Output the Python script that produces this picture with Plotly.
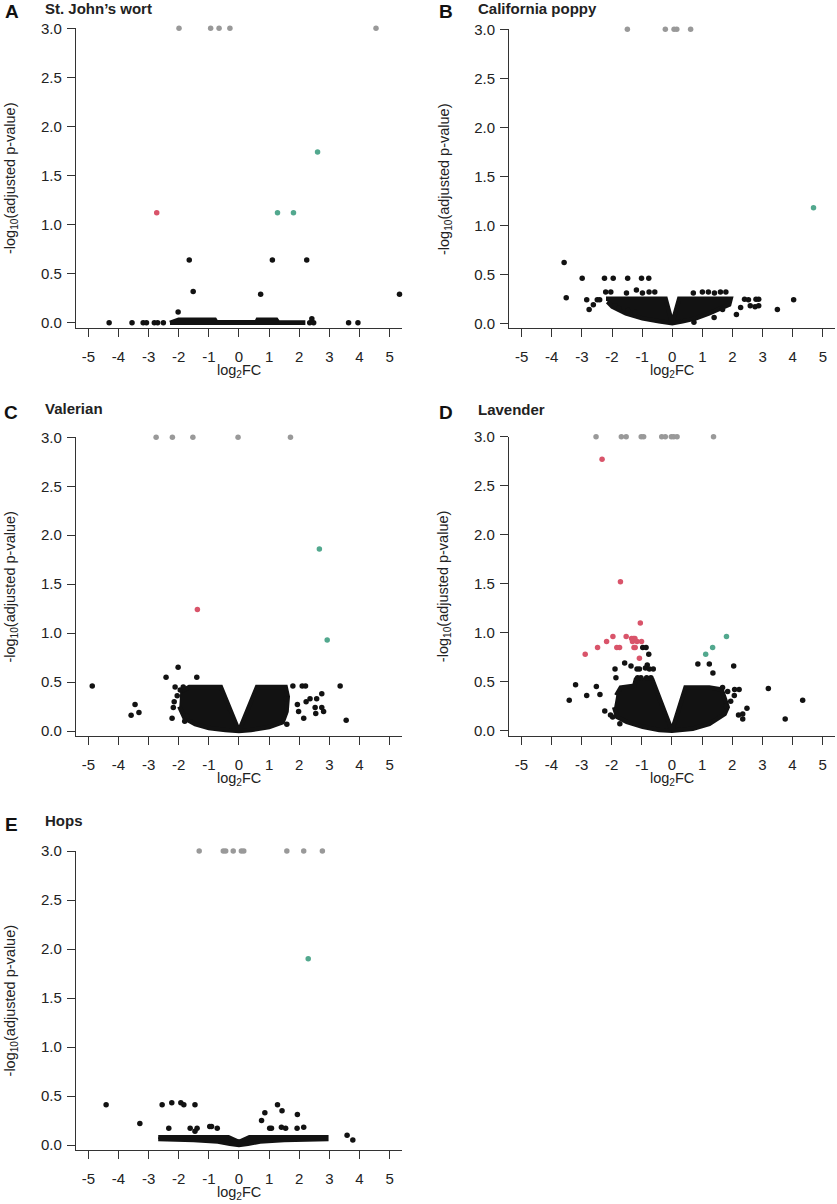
"""
Volcano plots for five herbal extracts (panels A-E).
Writes out.html (standalone, plotly.js inline).
"""

import plotly.graph_objects as go

W, H = 837, 1204

# ── Colours ─────────────────────────────────────────────────────────────────
BLACK = "#121212"
GREY = "#999999"
RED = "#d9546a"
TEAL = "#52a88e"
FONT = "Arial, Liberation Sans, sans-serif"

X_TICKS = [-5, -4, -3, -2, -1, 0, 1, 2, 3, 4, 5]
X_TICK_TEXT = ["-5", "-4", "-3", "-2", "-1", "0", "1", "2", "3", "4", "5"]
Y_TICKS = [0.0, 0.5, 1.0, 1.5, 2.0, 2.5, 3.0]
CAP = 3.0  # -log10 values above the cap are drawn in grey at 3.0

LETTERS = ["A", "B", "C", "D", "E"]
TITLES = ["St. John’s wort", "California poppy", "Valerian", "Lavender", "Hops"]

# ── A: St. John's wort ─────────────────────────────────────────────────────
A_GREY_X = [-1.99, -0.94, -0.66, -0.30, 4.55]
A_RED_X = [-2.73]
A_RED_Y = [1.12]
A_TEAL_X = [1.28, 1.81, 2.61]
A_TEAL_Y = [1.12, 1.12, 1.74]
A_BLACK_X = [-4.31, -3.55, -3.18, -3.07, -2.81, -2.70, -2.51, -2.02, -1.65, -1.52,
             0.72, 1.11, 2.25, 2.35, 2.42, 2.48, 3.64, 3.95, 5.33]
A_BLACK_Y = [0.0, 0.0, 0.0, 0.0, 0.0, 0.0, 0.0, 0.11, 0.64, 0.32,
             0.29, 0.64, 0.64, 0.0, 0.04, 0.0, 0.0, 0.0, 0.29]
A_DENSE_X = [-2.29, -2.15, -2.0, -0.8, -0.75, 0.58, 0.62, 1.24, 1.3, 2.13, 2.13, -2.29]
A_DENSE_Y = [0.0, 0.015, 0.03, 0.03, 0.006, 0.006, 0.03, 0.03, 0.004, 0.004, 0.0, 0.0]

# ── B: California poppy ────────────────────────────────────────────────────
B_GREY_X = [-1.49, -0.23, 0.06, 0.15, 0.61]
B_RED_X = []
B_RED_Y = []
B_TEAL_X = [4.69]
B_TEAL_Y = [1.18]
B_BLACK_X = [-3.59, -3.52, -2.99, -2.84, -2.76, -2.62, -2.49, -2.41, -2.25, -2.21,
             -2.04, -1.96, -1.48, -1.52, -1.19, -1.02, -0.99, -0.78, -0.77, -0.58,
             -1.90, -1.77, -1.46, -1.23, 0.70, 1.00, 1.20, 1.40, 1.60, 1.78,
             1.67, 1.39, 0.72, 2.13, 2.27, 2.40, 2.53, 2.59, 2.75, 2.78,
             2.87, 2.87, 3.49, 4.03]
B_BLACK_Y = [0.62, 0.26, 0.46, 0.24, 0.14, 0.19, 0.24, 0.24, 0.46, 0.32,
             0.32, 0.46, 0.46, 0.31, 0.34, 0.46, 0.31, 0.46, 0.32, 0.32,
             0.18, 0.15, 0.13, 0.11, 0.31, 0.32, 0.32, 0.31, 0.32, 0.32,
             0.14, 0.06, 0.01, 0.09, 0.16, 0.245, 0.24, 0.18, 0.17, 0.245,
             0.245, 0.18, 0.14, 0.24]
B_DENSE_X = [-2.2, -0.22, 0.0, 0.23, 1.94, 1.89, 1.22, 0.78, 0.34, 0.0,
             -0.44, -0.99, -1.54, -1.99, -2.15]
B_DENSE_Y = [0.25, 0.25, 0.0, 0.25, 0.25, 0.19, 0.10, 0.05, 0.02, 0.0,
             0.02, 0.05, 0.10, 0.17, 0.22]

# ── C: Valerian ────────────────────────────────────────────────────────────
C_GREY_X = [-2.75, -2.21, -1.53, -0.03, 1.71]
C_RED_X = [-1.38]
C_RED_Y = [1.24]
C_TEAL_X = [2.67, 2.93]
C_TEAL_Y = [1.86, 0.93]
C_BLACK_X = [-4.87, -3.45, -3.58, -3.32, -2.42, -2.02, -1.40, -2.12, -1.95, -2.18,
             -2.22, -1.73, 1.79, 2.10, 2.21, 1.94, 2.23, 2.36, 2.58, 2.75,
             1.98, 2.15, 2.53, 2.75, 2.55, 2.81, 3.36, 3.56, 1.59, 1.57,
             -2.05, -2.15, -1.85, -1.80]
C_BLACK_Y = [0.46, 0.27, 0.16, 0.19, 0.55, 0.65, 0.55, 0.45, 0.42, 0.24,
             0.13, 0.15, 0.46, 0.46, 0.46, 0.27, 0.30, 0.33, 0.33, 0.38,
             0.20, 0.13, 0.24, 0.24, 0.18, 0.20, 0.46, 0.11, 0.07, 0.33,
             0.36, 0.30, 0.45, 0.10]
C_DENSE_X = [-1.95, -1.65, -0.6, 0.0, 0.6, 1.55, 1.62, 1.58, 1.45, 1.0,
             0.4, 0.0, -0.45, -1.0, -1.45, -1.8, -1.98]
C_DENSE_Y = [0.40, 0.45, 0.45, 0.0, 0.45, 0.45, 0.35, 0.2, 0.09, 0.04,
             0.01, 0.0, 0.01, 0.03, 0.07, 0.13, 0.25]

# ── D: Lavender ────────────────────────────────────────────────────────────
D_GREY_X = [-2.52, -1.68, -1.52, -1.02, -0.94, -0.34, -0.22, -0.02, 0.06, 0.17, 1.38]
D_RED_X = [-2.32, -1.71, -1.05, -2.88, -2.47, -2.17, -1.96, -1.83, -1.74, -1.52,
           -1.34, -1.28, -1.23, -1.31, -1.16, -1.01, -1.26, -1.22, -1.08]
D_RED_Y = [2.77, 1.52, 1.10, 0.78, 0.85, 0.91, 0.96, 0.85, 0.85, 0.96,
           0.94, 0.94, 0.94, 0.91, 0.91, 0.91, 0.85, 0.85, 0.74]
D_TEAL_X = [1.12, 1.35, 1.81]
D_TEAL_Y = [0.78, 0.85, 0.96]
D_BLACK_X = [-0.97, -0.86, -0.77, -0.82, -1.36, -1.57, -1.89, -1.86, -1.16, -1.08,
             -0.88, -0.75, -0.62, -1.14, -1.03, -0.84, -0.70, -3.20, -3.41, -2.83,
             -2.51, -2.39, -2.23, -1.73, -2.04, -1.97, 0.86, 1.24, 1.36, 2.05,
             2.08, 2.23, 2.07, 2.49, 2.21, 2.35, 2.35, 3.20, 3.76, 4.34,
             1.68, 1.85, 1.95, 1.80]
D_BLACK_Y = [0.85, 0.85, 0.78, 0.67, 0.66, 0.69, 0.63, 0.54, 0.63, 0.63,
             0.64, 0.63, 0.63, 0.54, 0.54, 0.54, 0.54, 0.47, 0.31, 0.36,
             0.45, 0.37, 0.20, 0.07, 0.16, 0.14, 0.68, 0.68, 0.59, 0.66,
             0.42, 0.42, 0.36, 0.23, 0.16, 0.17, 0.12, 0.43, 0.12, 0.31,
             0.44, 0.40, 0.30, 0.25]
D_DENSE_X = [-1.85, -1.7, -1.25, -1.2, -0.65, -0.55, 0.0, 0.45, 1.24, 1.65,
             1.85, 1.75, 1.24, 0.69, 0.0, -0.42, -0.97, -1.5, -1.82, -1.92]
D_DENSE_Y = [0.36, 0.44, 0.46, 0.52, 0.52, 0.44, 0.0, 0.44, 0.44, 0.42,
             0.24, 0.17, 0.07, 0.02, 0.0, 0.007, 0.04, 0.09, 0.14, 0.24]

# ── E: Hops ────────────────────────────────────────────────────────────────
E_GREY_X = [-1.32, -0.52, -0.44, -0.19, 0.08, 0.16, 1.59, 2.15, 2.77]
E_RED_X = []
E_RED_Y = []
E_TEAL_X = [2.30]
E_TEAL_Y = [1.90]
E_BLACK_X = [-4.41, -3.29, -2.55, -2.23, -1.93, -1.83, -1.46, -2.33, -1.62, -1.46,
             -1.39, -0.97, -0.91, -0.72, 0.75, 0.86, 1.28, 1.43, 1.02, 1.08,
             1.41, 1.55, 1.94, 1.93, 2.15, 3.59, 3.78]
E_BLACK_Y = [0.41, 0.22, 0.41, 0.43, 0.43, 0.41, 0.41, 0.17, 0.17, 0.14,
             0.17, 0.19, 0.19, 0.17, 0.25, 0.33, 0.41, 0.35, 0.17, 0.17,
             0.18, 0.17, 0.31, 0.17, 0.18, 0.10, 0.05]
E_DENSE_X = [-2.68, -0.35, 0.0, 0.35, 2.90, 2.90, 1.5, 0.7, 0.3, 0.0,
             -0.3, -0.7, -1.5, -2.68]
E_DENSE_Y = [0.08, 0.08, 0.03, 0.08, 0.08, 0.06, 0.05, 0.035, 0.012, 0.0,
             0.012, 0.035, 0.05, 0.06]

PANEL_DATA = [
    (A_GREY_X, A_RED_X, A_RED_Y, A_TEAL_X, A_TEAL_Y, A_BLACK_X, A_BLACK_Y, A_DENSE_X, A_DENSE_Y),
    (B_GREY_X, B_RED_X, B_RED_Y, B_TEAL_X, B_TEAL_Y, B_BLACK_X, B_BLACK_Y, B_DENSE_X, B_DENSE_Y),
    (C_GREY_X, C_RED_X, C_RED_Y, C_TEAL_X, C_TEAL_Y, C_BLACK_X, C_BLACK_Y, C_DENSE_X, C_DENSE_Y),
    (D_GREY_X, D_RED_X, D_RED_Y, D_TEAL_X, D_TEAL_Y, D_BLACK_X, D_BLACK_Y, D_DENSE_X, D_DENSE_Y),
    (E_GREY_X, E_RED_X, E_RED_Y, E_TEAL_X, E_TEAL_Y, E_BLACK_X, E_BLACK_Y, E_DENSE_X, E_DENSE_Y),
]

# plot-area boxes in pixels: left, top (y=3.0), bottom (x-axis line)
BOXES = [
    (76.0, 28.3, 327.7),
    (509.3, 29.3, 328.2),
    (76.0, 437.3, 735.9),
    (509.0, 436.7, 735.6),
    (76.0, 851.0, 1149.9),
]
BOX_W = 325.6
LETTER_POS = [(3, 12), (437, 12), (2, 412.5), (437, 413), (3, 824)]


def fx(p):
    return p / W


def fy(p):
    return 1 - p / H


fig = go.Figure()
annotations = []

for i, (data, box) in enumerate(zip(PANEL_DATA, BOXES)):
    grey_x, red_x, red_y, teal_x, teal_y, blk_x, blk_y, den_x, den_y = data
    left, top, bottom = box
    n = "" if i == 0 else str(i + 1)
    xa, ya = "x" + n, "y" + n

    common = dict(xaxis=xa, yaxis=ya, showlegend=False, hoverinfo="skip", cliponaxis=False)
    # dense core of non-significant genes
    fig.add_trace(go.Scatter(x=den_x, y=den_y, mode="lines", fill="toself",
                             fillcolor=BLACK, line=dict(color=BLACK, width=4.5),
                             xaxis=xa, yaxis=ya, showlegend=False, hoverinfo="skip"))
    fig.add_trace(go.Scatter(x=blk_x, y=blk_y, mode="markers",
                             marker=dict(color=BLACK, size=5.5), **common))
    fig.add_trace(go.Scatter(x=grey_x, y=[CAP] * len(grey_x), mode="markers",
                             marker=dict(color=GREY, size=5.5), **common))
    if red_x:
        fig.add_trace(go.Scatter(x=red_x, y=red_y, mode="markers",
                                 marker=dict(color=RED, size=5.5), **common))
    fig.add_trace(go.Scatter(x=teal_x, y=teal_y, mode="markers",
                             marker=dict(color=TEAL, size=5.5), **common))

    axis_style = dict(showline=True, linecolor="#333333", linewidth=1.3,
                      ticks="outside", ticklen=8, tickwidth=1.3, tickcolor="#333333",
                      showgrid=False, zeroline=False, automargin=False,
                      tickfont=dict(family=FONT, size=15, color="#222222"))
    fig.layout["xaxis" + n] = dict(
        domain=[fx(left), fx(left + BOX_W)], anchor=ya, range=[-5.41, 5.40],
        tickvals=X_TICKS, ticktext=X_TICK_TEXT, ticklabelstandoff=7, **axis_style)
    fig.layout["yaxis" + n] = dict(
        domain=[fy(bottom), fy(top)], anchor=xa, range=[-0.05, 3.0],
        tickvals=Y_TICKS, tickformat=".1f", ticklabelstandoff=2, **axis_style)

    mid_y = (top + bottom) / 2
    zero_x = left + BOX_W * 5.41 / 10.81
    annotations += [
        dict(x=fx(LETTER_POS[i][0]), y=fy(LETTER_POS[i][1]), text="<b>%s</b>" % LETTERS[i],
             xanchor="left", yanchor="middle", showarrow=False,
             font=dict(family=FONT, size=19, color="#111111")),
        dict(x=fx(left - 33), y=fy(LETTER_POS[i][1] - 4), text="<b>%s</b>" % TITLES[i],
             xanchor="left", yanchor="middle", showarrow=False,
             font=dict(family=FONT, size=15, color="#222222")),
        dict(x=fx(left - 65), y=fy(mid_y), text="-log<sub>10</sub>(adjusted p-value)",
             textangle=-90, xanchor="center", yanchor="middle", showarrow=False,
             font=dict(family=FONT, size=14.5, color="#222222")),
        dict(x=fx(zero_x), y=fy(bottom + 43), text="log<sub>2</sub>FC",
             xanchor="center", yanchor="middle", showarrow=False,
             font=dict(family=FONT, size=14.5, color="#222222")),
    ]

for a in annotations:
    a.update(xref="paper", yref="paper")

fig.update_layout(
    width=W, height=H, autosize=False, showlegend=False,
    margin=dict(l=0, r=0, t=0, b=0, pad=0, autoexpand=False),
    paper_bgcolor="white", plot_bgcolor="white",
    annotations=annotations,
)

# drop the browser's default body margin so the figure sits at (0, 0)
fig.write_html("out.html", config={"displayModeBar": False},
               post_script="document.body.style.margin='0';")
